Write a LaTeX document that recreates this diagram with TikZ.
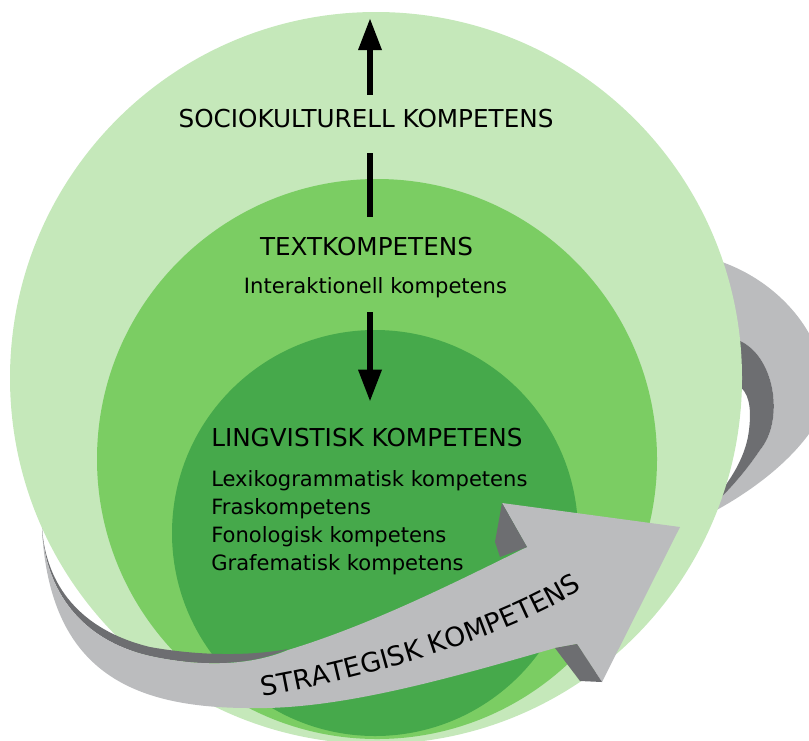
\documentclass[tikz,border=0pt]{standalone}
\usepackage{fontspec}
\setmainfont{DejaVu Sans}
\usetikzlibrary{arrows.meta, decorations.text}
\definecolor{outergreen}{HTML}{C5E8BA}
\definecolor{midgreen}{HTML}{7BCD63}
\definecolor{innergreen}{HTML}{46A94B}
\definecolor{ribbonlight}{HTML}{BBBCBE}
\definecolor{ribbondark}{HTML}{6D6E71}
\newcommand\stratfont{\fontsize{20}{24}\selectfont}

\begin{document}
\begin{tikzpicture}[x=0.75pt, y=-0.75pt,
    % Node styles
    title/.style={font=\fontsize{18.5}{22}\selectfont, text height=13.5pt, text depth=0pt, inner sep=0pt},
    sub/.style={font=\fontsize{15.8}{19}\selectfont, text height=11.25pt, text depth=0pt, inner sep=0pt},
    item/.style={sub, anchor=base west},
    % Arrow styles
    stem/.style={line width=4.7pt},
    pointer/.style={stem, -{Triangle[width=16.5pt, length=24pt]}},
    light/.style={fill=ribbonlight},
    dark/.style={fill=ribbondark},
]
\useasboundingbox (0,0) rectangle (809,740);
\clip (0,0) rectangle (809,740);

% Ribbon behind the circles
\fill[light] (715,258) -- (722,262) .. controls (800,290) and (845,370) .. (815,425)
    .. controls (790,465) and (740,500) .. (695,521)
    .. controls (715,505) and (740,480) .. (760,450)
    .. controls (785,420) and (775,355) .. (738,340) -- cycle;
\fill[dark] (738,340) .. controls (775,355) and (785,420) .. (760,450)
    .. controls (740,480) and (715,505) .. (695,521)
    .. controls (720,495) and (745,465) .. (749,430)
    .. controls (752,405) and (748,392) .. (738,385) -- cycle;

% Circles
\fill[outergreen] (376,378) circle[radius=366];
\fill[midgreen] (377,459) circle[radius=280];
\fill[innergreen] (375,533) circle[radius=203];

% Ribbon in front
\fill[dark] (42,528) .. controls (46,585) and (80,630) .. (150,647)
    .. controls (200,656) and (250,656) .. (288,649)
    .. controls (250,666) and (200,667) .. (150,656)
    .. controls (80,640) and (46,590) .. (42,530) -- cycle;
\fill[light] (42,530) .. controls (46,590) and (80,640) .. (150,656)
    .. controls (200,667) and (250,666) .. (288,650)
    .. controls (370,625) and (450,585) .. (527,547)
    -- (502,503) -- (680,527) -- (602,682) -- (577,644) -- (555,648)
    .. controls (450,678) and (340,710) .. (250,708)
    .. controls (130,708) and (50,670) .. (42,530) -- cycle;
\fill[dark] (502,503) -- (495,542) -- (500,557) -- (527,547) -- cycle;
\fill[dark] (555,648) -- (577,644) -- (602,682) -- (580,681) -- cycle;
\path[decorate, decoration={text along path, text align=center,
    text={|\stratfont|STRATEGISK KOMPETENS}}]
    (246,699) .. controls (350,683) and (510,640) .. (596,580);

% Labels
\node[title, anchor=base] (socio) at (366,127) {SOCIOKULTURELL KOMPETENS};
\node[title, anchor=base] (textk) at (366.5,255) {TEXTKOMPETENS};
\node[sub, anchor=base] (interak) at (375.5,293.3) {Interaktionell kompetens};
\node[title, anchor=base west] (lingv) at (211,446) {LINGVISTISK KOMPETENS};
\foreach \t [count=\i] in {Lexikogrammatisk kompetens, Fraskompetens,
    Fonologisk kompetens, Grafematisk kompetens} {
    \node[item] (item\i) at (211,{486+28.2*(\i-1)}) {\t};
}

% Vertical arrows
\coordinate (tip) at (370,18);
\draw[pointer, shorten <=10.5pt] (socio.north -| tip) -- (tip);
\draw[stem, shorten <=19.5pt, shorten >=15pt] (socio.south -| tip) -- (textk.north -| tip);
\draw[pointer, shorten <=14pt, shorten >=19.5pt] (interak.south -| tip) -- (lingv.north -| tip);
\end{tikzpicture}
\end{document}
